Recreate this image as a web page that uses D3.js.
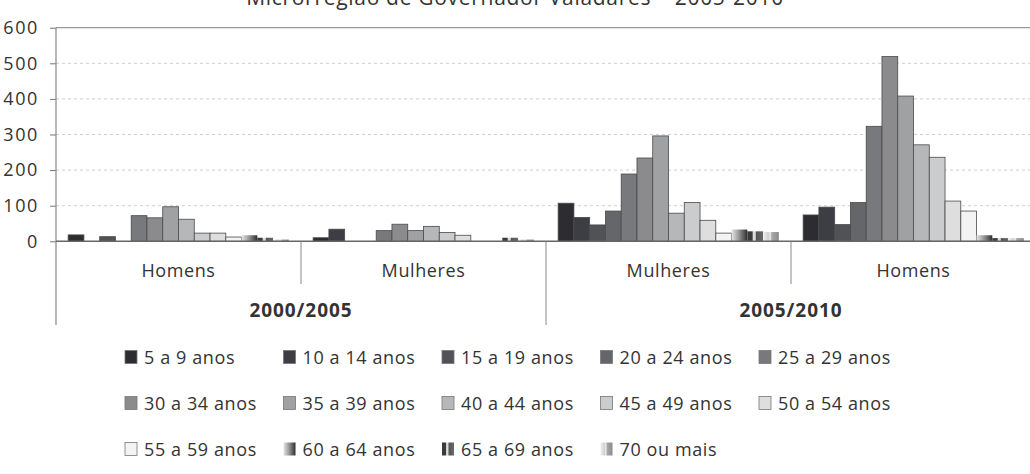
<!DOCTYPE html>
<html><head><meta charset="utf-8">
<script src="https://cdn.jsdelivr.net/npm/d3@7"></script>
<style>
html,body{margin:0;padding:0;background:#fff;}
svg{display:block;font-family:"Open Sans","Noto Sans",sans-serif;}
</style></head>
<body>
<svg id="chart" width="1030" height="474"></svg>
<script>
const title = "Microrregião de Governador Valadares – 2005-2010";
const ageGroups = ["5 a 9 anos","10 a 14 anos","15 a 19 anos","20 a 24 anos","25 a 29 anos",
  "30 a 34 anos","35 a 39 anos","40 a 44 anos","45 a 49 anos","50 a 54 anos",
  "55 a 59 anos","60 a 64 anos","65 a 69 anos","70 ou mais"];
const sexLabels = ["Homens","Mulheres","Mulheres","Homens"];
const periodLabels = ["2000/2005","2005/2010"];
const homens2000 = [18,0,13,0,72,66,97,62,23,23,12,17,10,5];
const mulheres2000 = [10,34,0,0,30,48,30,42,25,17,0,0,10,5];
const mulheres2005 = [107,67,46,85,189,234,296,79,109,59,23,33,28,26];
const homens2005 = [74,96,47,109,323,519,408,271,236,113,85,17,9,9];
const yTicks = [0,100,200,300,400,500,600];

const seriesByGroup = [homens2000, mulheres2000, mulheres2005, homens2005];
const solidColors = ["#2c2c31","#3d3e43","#515256","#65666a","#78797c","#8b8b8d",
  "#a0a1a3","#b6b7b9","#cbcccd","#dedede","#f3f3f3"];

const svg = d3.select("#chart");
const defs = svg.append("defs");
function grad(id, stops){
  const g = defs.append("linearGradient").attr("id",id).attr("x1","0").attr("x2","1").attr("y1","0").attr("y2","0");
  stops.forEach(s=>g.append("stop").attr("offset",s[0]).attr("stop-color",s[1]));
}
grad("g60",[["0%","#e6e6e6"],["45%","#9a9a9a"],["100%","#2e2e2e"]]);
grad("g65",[["0%","#3a3a3a"],["30%","#3a3a3a"],["38%","#dcdcdc"],["50%","#dcdcdc"],["58%","#555"],["100%","#6a6a6a"]]);
grad("g70",[["0%","#efefef"],["35%","#d0d0d0"],["45%","#f0f0f0"],["55%","#a8a8a8"],["100%","#8a8a8a"]]);
const fills = solidColors.concat(["url(#g60)","url(#g65)","url(#g70)"]);

const leftX = 56, groupW = 245, topY = 27.7, zeroY = 241.3;
const x0 = d3.scaleBand().domain(d3.range(4)).range([leftX, leftX + 4*groupW]);
const x1 = d3.scaleBand().domain(ageGroups).range([0, groupW]).paddingInner(0).paddingOuter(0.77);
const y = d3.scaleLinear().domain([0,600]).range([zeroY, topY]);

// title (cropped at top in the reference)
svg.append("text").attr("x",515).attr("y",5).attr("text-anchor","middle")
  .attr("font-size",21).attr("letter-spacing",0.7).attr("fill","#333").text(title);

// gridlines
const gridRight = 1030;
svg.append("g").selectAll("line").data(yTicks.filter(t=>t>0)).join("line")
  .attr("x1",leftX).attr("x2",gridRight).attr("y1",d=>y(d)).attr("y2",d=>y(d))
  .attr("stroke",d=>d===600?"#999":"#cfcfcf")
  .attr("stroke-width",d=>d===600?1.2:1)
  .attr("stroke-dasharray",d=>d===600?null:"3,3");

// y axis
const yAxis = d3.axisLeft(y).tickValues(yTicks).tickSize(6).tickPadding(11);
const yg = svg.append("g").attr("transform",`translate(${leftX},0)`).call(yAxis);
yg.select(".domain").remove();
yg.selectAll(".tick line").attr("stroke","#777");
yg.selectAll(".tick text").attr("font-size",18).attr("letter-spacing",1.6).attr("fill","#333")
  .attr("font-family","'Open Sans','Noto Sans',sans-serif");

// bars
const gGroups = svg.append("g").selectAll("g").data(seriesByGroup).join("g")
  .attr("transform",(d,i)=>`translate(${x0(i)},0)`);
gGroups.selectAll("rect").data(d=>d.map((v,k)=>({v,k})).filter(e=>e.v>0)).join("rect")
  .attr("x",d=>x1(ageGroups[d.k]))
  .attr("width",x1.bandwidth())
  .attr("y",d=>y(d.v))
  .attr("height",d=>zeroY - y(d.v))
  .attr("fill",d=>fills[d.k])
  .attr("stroke",d=>d.k>=11?"none":"#4a4a4a")
  .attr("stroke-width",0.8);

// left axis line and baseline
svg.append("line").attr("x1",leftX).attr("x2",leftX).attr("y1",topY).attr("y2",325)
  .attr("stroke","#888").attr("stroke-width",1.2);
svg.append("line").attr("x1",leftX).attr("x2",gridRight).attr("y1",zeroY).attr("y2",zeroY)
  .attr("stroke","#666").attr("stroke-width",1.4);

// group separators
[1,2,3].forEach(i=>{
  svg.append("line").attr("x1",x0(i)).attr("x2",x0(i)).attr("y1",zeroY).attr("y2", i===2?325:284)
    .attr("stroke","#888").attr("stroke-width",1);
});
// sex labels
svg.append("g").selectAll("text").data(sexLabels).join("text")
  .attr("x",(d,i)=>x0(i)+groupW/2).attr("y",277).attr("text-anchor","middle")
  .attr("font-size",18).attr("letter-spacing",0.6).attr("fill","#333").text(d=>d);
// period labels
svg.append("g").selectAll("text").data(periodLabels).join("text")
  .attr("x",(d,i)=>x0(i*2)+groupW).attr("y",317).attr("text-anchor","middle")
  .attr("font-size",19).attr("letter-spacing",0.9).attr("font-weight","bold").attr("fill","#333").text(d=>d);

// legend
const legX = d3.scaleLinear().domain([0,1]).range([125, 283.5]);
const legRows = [357,403,449];
const leg = svg.append("g").selectAll("g").data(ageGroups).join("g")
  .attr("transform",(d,i)=>`translate(${legX(i%5)},${legRows[Math.floor(i/5)]})`);
leg.append("rect").attr("x",0).attr("y",-6.5).attr("width",12).attr("height",13)
  .attr("fill",(d,i)=>fills[i]).attr("stroke",(d,i)=>i>=11?"none":"#777").attr("stroke-width",0.8);
leg.append("text").attr("x",19).attr("y",6.5).attr("font-size",18).attr("letter-spacing",0.6).attr("fill","#333").text(d=>d);
</script>
</body></html>
